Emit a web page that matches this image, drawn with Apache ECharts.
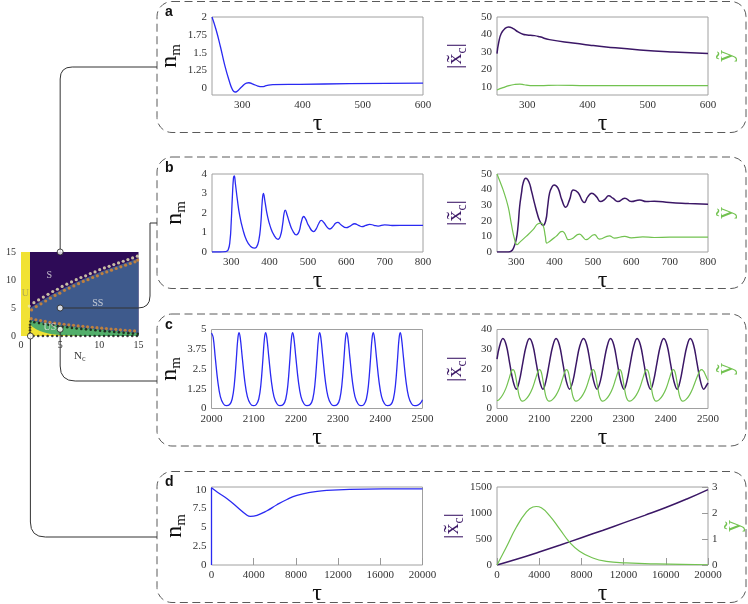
<!DOCTYPE html>
<html><head><meta charset="utf-8">
<script src="https://cdn.jsdelivr.net/npm/echarts@6/dist/echarts.min.js"></script>
<style>html,body{margin:0;padding:0;background:#fff}#c{width:748px;height:604px}</style>
</head><body><div id="c"></div>
<script>
// ---------------- DATA ----------------
// Phase diagram (N_c vs v_u)
const boundaryUpper = [[1.15,5.0],[1.8,5.6],[2.4,6.1],[3.0,6.6],[3.6,7.1],[4.2,7.6],[4.8,8.0],[5.4,8.5],[6.0,8.9],[6.6,9.3],[7.2,9.7],[7.8,10.1],[8.4,10.4],[9.0,10.8],[9.6,11.1],[10.2,11.5],[10.8,11.8],[11.4,12.1],[12.0,12.4],[12.6,12.7],[13.2,13.0],[13.8,13.3],[14.4,13.6],[15.0,13.9]];
const boundaryLower = [[1.15,2.8],[1.8,2.6],[2.4,2.45],[3.0,2.3],[3.6,2.15],[4.2,2.0],[4.8,1.9],[5.4,1.8],[6.0,1.7],[6.6,1.6],[7.2,1.5],[7.8,1.42],[8.4,1.34],[9.0,1.26],[9.6,1.18],[10.2,1.1],[10.8,1.02],[11.4,0.95],[12.0,0.88],[12.6,0.8],[13.2,0.73],[13.8,0.66],[14.4,0.6],[15.0,0.54]];
const boundaryYellow = [[1.15,2.1],[1.5,1.6],[2.0,1.15],[2.5,0.85],[3.0,0.62],[3.5,0.45],[4.0,0.33],[5.0,0.18],[6.0,0.08],[7.0,0.03],[8.0,0]];
const uStrip = [[0,15],[1.15,15]];
const lightDots = [[1.05,5.35],[1.65,5.95],[2.25,6.45],[2.85,6.95],[3.45,7.45],[4.05,7.95],[4.65,8.35],[5.25,8.85],[5.85,9.25],[6.45,9.65],[7.05,10.05],[7.65,10.45],[8.25,10.75],[8.85,11.15],[9.45,11.45],[10.05,11.85],[10.65,12.15],[11.25,12.45],[11.85,12.75],[12.45,13.05],[13.05,13.35],[13.65,13.65],[14.25,13.95],[14.85,14.25]];
const orangeUpperDots = [[1.35,4.65],[1.95,5.25],[2.55,5.75],[3.15,6.25],[3.75,6.75],[4.35,7.25],[4.95,7.65],[5.55,8.15],[6.15,8.55],[6.75,8.95],[7.35,9.35],[7.95,9.75],[8.55,10.05],[9.15,10.45],[9.75,10.75],[10.35,11.15],[10.95,11.45],[11.55,11.75],[12.15,12.05],[12.75,12.35],[13.35,12.65],[13.95,12.95],[14.55,13.25],[14.9,13.55]];
const orangeLowerDots = [[1.3,3.1],[1.9,2.9],[2.5,2.75],[3.1,2.6],[3.7,2.45],[4.3,2.3],[4.9,2.2],[5.5,2.1],[6.1,2.0],[6.7,1.9],[7.3,1.8],[7.9,1.72],[8.5,1.64],[9.1,1.56],[9.7,1.48],[10.3,1.4],[10.9,1.32],[11.5,1.25],[12.1,1.18],[12.7,1.1],[13.3,1.03],[13.9,0.96],[14.5,0.9]];
const blackLowerDots = [[1.2,2.6],[1.7,2.45],[2.3,2.3],[2.9,2.15],[3.5,2.0],[4.1,1.85],[4.7,1.75],[5.3,1.65],[5.9,1.55],[6.5,1.45],[7.1,1.35],[7.7,1.27],[8.3,1.19],[8.9,1.11],[9.5,1.03],[10.1,0.95],[10.7,0.87],[11.3,0.8],[11.9,0.73],[12.5,0.65],[13.1,0.58],[13.7,0.51],[14.3,0.45],[14.9,0.39],[1.15,2.0],[1.15,1.5],[1.15,1.0],[1.15,0.5]];
const blackBottomDots = [[1.6,0],[2.2,0],[2.8,0],[3.4,0],[4.0,0],[4.6,0],[5.2,0],[5.8,0],[6.4,0],[7.0,0],[7.6,0],[8.2,0],[8.8,0],[9.4,0],[10.0,0],[10.6,0],[11.2,0],[11.8,0],[12.4,0],[13.0,0],[13.6,0],[14.2,0],[14.8,0]];
const regionLabels = [{name:'S',value:[3.6,10.9]},{name:'SS',value:[9.8,5.9]},{name:'U',value:[0.55,7.6]},{name:'US',value:[3.7,1.5]}];
const connectorPoints = [[5,15],[5,5],[5,1.2],[1.2,0]];

// Panel a
const aXTicks = [300,400,500,600];
const aNmTicks = [1,1.25,1.5,1.75,2];
const aNmTickLabels = ['0','1.25','1.5','1.75','2'];
const aXcTicks = [10,20,30,40,50];
const aNm = [[250,2.0],[257,1.815],[264,1.583],[271,1.329],[278,1.12],[284,0.98],[288,0.949],[291,0.955],[299,1.019],[307,1.074],[311,1.079],[318,1.06],[326,1.032],[333,1.023],[340,1.037],[351,1.051],[395,1.056],[478,1.065],[600,1.074]];
const aXc = [[250,29.0],[253,35.7],[257,40.5],[263,43.3],[269,44.3],[277,43.3],[285,41.4],[293,40.1],[300,39.7],[312,39.3],[321,38.6],[337,37.0],[376,35.0],[404,33.8],[431,32.8],[487,31.1],[542,29.9],[600,29.0]];
const aY = [[250,8.1],[260,9.4],[270,10.6],[280,11.3],[288,11.5],[295,11.1],[305,10.6],[320,10.6],[350,10.8],[400,10.6],[600,10.6]];

// Panel b
const bXTicks = [300,400,500,600,700,800];
const bNm = [[250,0],[270,0],[285,0.02],[292,0.1],[297,0.6],[300,1.5],[303,2.8],[306,3.8],[308,3.9],[311,3.5],[316,2.7],[322,1.9],[330,1.2],[340,0.6],[350,0.3],[360,0.2],[366,0.25],[372,0.6],[377,1.4],[381,2.6],[384,3.0],[388,2.6],[394,1.9],[402,1.3],[412,0.85],[422,0.65],[428,0.8],[434,1.4],[438,2.0],[441,2.15],[445,1.95],[452,1.5],[460,1.1],[470,0.88],[477,1.05],[483,1.55],[489,1.82],[494,1.7],[502,1.35],[515,1.05],[522,1.2],[528,1.45],[535,1.62],[542,1.5],[549,1.3],[557,1.18],[565,1.3],[572,1.47],[578,1.52],[586,1.4],[600,1.25],[610,1.33],[622,1.45],[632,1.37],[641,1.3],[651,1.36],[661,1.42],[672,1.37],[683,1.33],[700,1.39],[720,1.36],[760,1.37],[800,1.37]];
const bXc = [[250,0],[280,0],[287,0.5],[293,2.5],[300,7.9],[305,17],[309,29],[314,38],[318,44],[325,47.2],[333,45],[340,39],[348,31],[355,24.5],[361,20.2],[370,17],[377,20],[382,29],[387,37.7],[393,41.5],[399,43],[409,40.9],[419,33.4],[429,28.7],[439,33.4],[449,39.8],[461,38.1],[472,33],[477,31.7],[487,35.5],[497,37.7],[509,35.5],[520,32.3],[531,33.8],[541,36],[552,34.5],[565,32.3],[583,34.5],[600,32.3],[622,33.4],[639,32.3],[660,32.6],[700,31.7],[750,31.1],[800,30.6]];
const bY = [[250,50],[258,45],[266,39.8],[279,29.1],[287,18.5],[296,7.9],[302,4.7],[309,6.2],[326,10],[344,14.3],[357,18.1],[365,18.5],[371,16.4],[376,10],[380,5.7],[387,6.8],[404,10],[420,13.2],[426,12.1],[431,9.5],[435,7.9],[444,8.3],[465,11.5],[474,9.6],[482,7.9],[504,11.1],[517,8.3],[543,10.4],[556,8.9],[583,10],[600,9.1],[630,9.7],[660,9.3],[700,9.5],[800,9.5]];

// Panel c
const cNm = [[2000,4.78],[2004,4.5],[2009,3.2],[2015,1.7],[2021,0.75],[2028,0.3],[2035,0.18],
 [2043,0.25],[2049,0.6],[2054,1.5],[2059,3.2],[2062,4.3],[2065,4.8],[2068,4.5],[2073,3.2],[2079,1.7],[2085,0.75],[2092,0.3],[2099,0.18],
 [2106,0.25],[2112,0.6],[2117,1.5],[2122,3.2],[2125,4.3],[2128,4.8],[2131,4.5],[2136,3.2],[2142,1.7],[2148,0.75],[2155,0.3],[2162,0.18],
 [2170,0.25],[2176,0.6],[2181,1.5],[2186,3.2],[2189,4.3],[2192,4.8],[2195,4.5],[2200,3.2],[2206,1.7],[2212,0.75],[2219,0.3],[2226,0.18],
 [2234,0.25],[2240,0.6],[2245,1.5],[2250,3.2],[2253,4.3],[2256,4.8],[2259,4.5],[2264,3.2],[2270,1.7],[2276,0.75],[2283,0.3],[2290,0.18],
 [2298,0.25],[2304,0.6],[2309,1.5],[2314,3.2],[2317,4.3],[2320,4.8],[2323,4.5],[2328,3.2],[2334,1.7],[2340,0.75],[2347,0.3],[2354,0.18],
 [2361,0.25],[2367,0.6],[2372,1.5],[2377,3.2],[2380,4.3],[2383,4.8],[2386,4.5],[2391,3.2],[2397,1.7],[2403,0.75],[2410,0.3],[2417,0.18],
 [2425,0.25],[2431,0.6],[2436,1.5],[2441,3.2],[2444,4.3],[2447,4.8],[2450,4.5],[2455,3.2],[2461,1.7],[2467,0.75],[2474,0.3],[2481,0.18],
 [2489,0.22],[2495,0.33],[2500,0.55]];
const cXc = [[2000,25],[2006,31.5],[2014,35.4],[2022,32],[2030,23],[2038,14],[2046,9.8],[2053,14],[2061,23],[2069,31.5],
 [2077,35.4],[2085,32],[2093,23],[2101,14],[2109,9.8],[2116,14],[2124,23],[2132,31.5],
 [2140,35.4],[2148,32],[2156,23],[2164,14],[2172,9.8],[2180,14],[2188,23],[2196,31.5],
 [2205,35.4],[2213,32],[2221,23],[2229,14],[2237,9.8],[2245,14],[2253,23],[2261,31.5],
 [2269,35.4],[2277,32],[2285,23],[2293,14],[2301,9.8],[2308,14],[2316,23],[2324,31.5],
 [2332,35.4],[2340,32],[2348,23],[2356,14],[2364,9.8],[2371,14],[2379,23],[2387,31.5],
 [2395,35.4],[2403,32],[2411,23],[2419,14],[2427,9.8],[2434,14],[2442,23],[2450,31.5],
 [2458,35.4],[2466,32],[2474,23],[2482,14],[2490,9.8],[2496,11.5],[2500,13]];
const cY = [[2000,3.9],[2005,4.5],[2013,6.7],[2021,10.2],[2028,14.7],[2032,17.5],[2035,19.2],[2038,19.7],[2041,19.0],[2044,16.5],[2048,11.5],[2052,6.8],[2056,4.4],[2059,3.8],
 [2061,3.7],[2068,4.6],[2076,6.8],[2084,10.3],[2091,14.8],[2095,17.5],[2098,19.2],[2101,19.7],[2104,19.0],[2107,16.5],[2111,11.5],[2115,6.8],[2119,4.4],[2122,3.8],
 [2125,3.7],[2132,4.6],[2140,6.8],[2148,10.3],[2155,14.8],[2159,17.5],[2162,19.2],[2165,19.7],[2168,19.0],[2171,16.5],[2175,11.5],[2179,6.8],[2183,4.4],[2186,3.8],
 [2188,3.7],[2195,4.6],[2203,6.8],[2211,10.3],[2218,14.8],[2222,17.5],[2225,19.2],[2228,19.7],[2231,19.0],[2234,16.5],[2238,11.5],[2242,6.8],[2246,4.4],[2249,3.8],
 [2251,3.7],[2258,4.6],[2266,6.8],[2274,10.3],[2281,14.8],[2285,17.5],[2288,19.2],[2291,19.7],[2294,19.0],[2297,16.5],[2301,11.5],[2305,6.8],[2309,4.4],[2312,3.8],
 [2315,3.7],[2322,4.6],[2330,6.8],[2338,10.3],[2345,14.8],[2349,17.5],[2352,19.2],[2355,19.7],[2358,19.0],[2361,16.5],[2365,11.5],[2369,6.8],[2373,4.4],[2376,3.8],
 [2378,3.7],[2385,4.6],[2393,6.8],[2401,10.3],[2408,14.8],[2412,17.5],[2415,19.2],[2418,19.7],[2421,19.0],[2424,16.5],[2428,11.5],[2432,6.8],[2436,4.4],[2439,3.8],
 [2441,3.7],[2448,4.6],[2456,6.8],[2464,10.3],[2472,14.8],[2477,17.5],[2481,19.2],[2485,19.7],[2489,19.0],[2493,17.5],[2497,15.5],[2500,14.3]];

// Panel d
const dNmTicks = [0,2.5,5,7.5,10];
const dNmRise = [[0,0],[0,10.25]];
const dNm = [[0,10.25],[535,9.7],[1480,8.8],[2425,7.7],[3370,6.6],[3685,6.45],[4315,6.6],[5260,7.2],[6200,8.0],[7150,8.7],[8100,9.25],[9350,9.65],[10930,9.9],[13130,10.05],[16280,10.1],[20000,10.1]];
const dXc = [[0,0],[2000,120],[4000,250],[6000,385],[8000,525],[10000,665],[12000,810],[14000,955],[16000,1105],[18000,1270],[20000,1450]];
const dY = [[0,0],[880,0.68],[1830,1.45],[2775,2.03],[3400,2.23],[3720,2.25],[4200,2.2],[4980,1.9],[5930,1.39],[6880,0.875],[7820,0.53],[9080,0.27],[10350,0.14],[12240,0.08],[15080,0.04],[20000,0.01]];

// ---------------- STYLE ----------------
const SERIF = 'Liberation Serif';
const C_BLUE = '#2a2af2', C_PURPLE = '#3b1766', C_GREEN = '#72c250';
const C_S = '#2e0b57', C_SS = '#3e5a8c', C_US = '#52ae6a', C_U = '#f1e234';
const plain = v => String(v);
const tickLbl = {fontFamily: SERIF, fontSize: 11, color: '#333', margin: 5, formatter: plain};
const border = '#a0a0a0';

const chart = echarts.init(document.getElementById('c'));

function grid(l, t, w, h, extra) {
  return Object.assign({left: l, top: t, width: w, height: h, show: true, borderColor: border, borderWidth: 1,
    backgroundColor: 'transparent', containLabel: false, outerBoundsMode: 'none'}, extra || {});
}
const grids = [
  grid(21, 252, 117.5, 84, {borderWidth: 0, backgroundColor: C_S}),
  grid(212, 17, 211, 78), grid(497, 17, 211, 78),
  grid(212, 174, 211, 78), grid(497, 174, 211, 78),
  grid(211.5, 329.5, 211, 79), grid(497, 329.5, 211, 79),
  grid(211.5, 487, 211, 78), grid(497, 487, 211, 78)
];

const tauName = (gap) => ({name: 'τ', nameLocation: 'middle', nameGap: gap,
  nameTextStyle: {fontFamily: SERIF, fontSize: 24, color: '#111'}});
function xAx(gi, min, max, ticks, gap, extra) {
  return Object.assign({type: 'value', gridIndex: gi, min: min, max: max,
    axisLine: {show: false}, axisTick: {show: false}, splitLine: {show: false},
    axisLabel: Object.assign({customValues: ticks, showMinLabel: true, showMaxLabel: true}, tickLbl)}, tauName(gap), extra || {});
}
const nmName = {name: '{n|n}{s|m}', nameLocation: 'middle', nameRotate: 90, nameGap: 23,
  nameTextStyle: {rich: {n: {fontFamily: SERIF, fontSize: 24, lineHeight: 28, color: '#111'},
    s: {fontFamily: SERIF, fontSize: 15, lineHeight: 15, verticalAlign: 'bottom', color: '#111'}}}};
const xcName = {name: '{p||x̃}{s|c}{p||}', nameLocation: 'middle', nameRotate: 90, nameGap: 28,
  nameTextStyle: {rich: {p: {fontFamily: SERIF, fontSize: 22, lineHeight: 28, color: C_PURPLE},
    s: {fontFamily: SERIF, fontSize: 14, lineHeight: 14, verticalAlign: 'bottom', color: C_PURPLE}}}};
const yName = {name: 'ỹ', nameLocation: 'middle', nameRotate: 90, nameGap: 6,
  nameTextStyle: {fontFamily: SERIF, fontSize: 24, color: C_GREEN}};
function yAx(gi, min, max, ticks, fmt, nm, extra) {
  return Object.assign({type: 'value', gridIndex: gi, min: min, max: max,
    axisLine: {show: false}, axisTick: {show: false}, splitLine: {show: false},
    axisLabel: Object.assign({}, tickLbl, {customValues: ticks, showMinLabel: true, showMaxLabel: true, formatter: fmt || plain})}, nm || {}, extra || {});
}
function yRightName(gi, nameGap) {
  return Object.assign({type: 'value', gridIndex: gi, position: 'right', min: 0, max: 1,
    axisLine: {show: false}, axisTick: {show: false}, axisLabel: {show: false}, splitLine: {show: false}}, yName, {nameGap: nameGap});
}

const dTick = {show: true, inside: true, length: 7, lineStyle: {color: '#999'}};
const xAxes = [
  {type: 'value', gridIndex: 0, min: 0, max: 15, interval: 5, axisLine: {show: false}, axisTick: {show: false}, splitLine: {show: false},
   axisLabel: {fontFamily: SERIF, fontSize: 10, color: '#333', margin: 4},
   name: '{n|N}{s|c}', nameLocation: 'middle', nameGap: 2,
   nameTextStyle: {rich: {n: {fontFamily: SERIF, fontSize: 11, lineHeight: 13, color: '#333'}, s: {fontFamily: SERIF, fontSize: 8, lineHeight: 8, verticalAlign: 'bottom', color: '#333'}}}},
  xAx(1, 250, 600, aXTicks, 7), xAx(2, 250, 600, aXTicks, 7),
  xAx(3, 250, 800, bXTicks, 7), xAx(4, 250, 800, bXTicks, 7),
  xAx(5, 2000, 2500, null, 9, {interval: 100}),
  xAx(6, 2000, 2500, null, 9, {interval: 100}),
  xAx(7, 0, 20000, null, 9, {interval: 4000, axisTick: dTick}),
  xAx(8, 0, 20000, null, 9, {interval: 4000, axisTick: dTick})
];
const yAxes = [
  {type: 'value', gridIndex: 0, min: 0, max: 15, interval: 5, axisLine: {show: false}, axisTick: {show: false}, splitLine: {show: false},
   axisLabel: {fontFamily: SERIF, fontSize: 10, color: '#333', margin: 5},
   name: '{n|ṽ}{s|u}', nameLocation: 'middle', nameRotate: 90, nameGap: 10,
   nameTextStyle: {rich: {n: {fontFamily: SERIF, fontSize: 11, lineHeight: 13, color: '#333'}, s: {fontFamily: SERIF, fontSize: 8, lineHeight: 8, verticalAlign: 'bottom', color: '#333'}}}},
  yAx(1, 0.907, 2, aNmTicks, v => aNmTickLabels[aNmTicks.indexOf(v)] ?? String(v), nmName),
  yAx(2, 5.2, 50, aXcTicks, null, xcName),
  yRightName(2, 6),
  yAx(3, 0, 4, null, null, nmName, {interval: 1}),
  yAx(4, 0, 50, null, null, xcName, {interval: 10}),
  yRightName(4, 6),
  yAx(5, 0, 5, null, null, nmName, {interval: 1.25}),
  yAx(6, 0, 40, null, null, xcName, {interval: 10}),
  yRightName(6, 6),
  yAx(7, 0, 10.36, dNmTicks, null, nmName),
  yAx(8, 0, 1500, null, null, xcName, {interval: 500}),
  yAx(8, 0, 3, null, null, yName, {interval: 1, position: 'right', nameGap: 9,
    axisTick: {show: true, inside: true, length: 6, lineStyle: {color: '#999'}}})
];
yAxes[12].axisLabel.margin = 4;

function line(xi, yi, data, color, w, sm) {
  return {type: 'line', xAxisIndex: xi, yAxisIndex: yi, data: data, symbol: 'none', smooth: sm === undefined ? 0.5 : sm,
    lineStyle: {color: color, width: w || 1.3}, silent: true, animation: false};
}
function area(data, color) {
  return {type: 'line', xAxisIndex: 0, yAxisIndex: 0, data: data, symbol: 'none', silent: true, animation: false,
    lineStyle: {width: 0, opacity: 0}, areaStyle: {color: color, opacity: 1, origin: 'start'}};
}
function dots(data, color, size, z) {
  return {type: 'scatter', xAxisIndex: 0, yAxisIndex: 0, data: data, symbolSize: size, silent: true, animation: false,
    itemStyle: {color: color}, z: z || 5};
}

const series = [
  area(boundaryUpper, C_SS), area(boundaryLower, C_US), area(boundaryYellow, C_U), area(uStrip, C_U),
  dots(lightDots, '#eeeab8', 3.2), dots(orangeUpperDots, '#e08a2c', 3.2),
  dots(orangeLowerDots, '#e08a2c', 3.2), dots(blackLowerDots, '#111', 2.6), dots(blackBottomDots, '#111', 2.6),
  {type: 'scatter', xAxisIndex: 0, yAxisIndex: 0, symbolSize: 0, silent: true, animation: false, z: 6,
   data: regionLabels.map(r => ({name: r.name, value: r.value, label: {color: r.name === 'U' ? '#a89f55' : '#e6e6e6'}})),
   label: {show: true, position: 'inside', formatter: p => p.name, fontFamily: SERIF, fontSize: 10}},
  {type: 'scatter', xAxisIndex: 0, yAxisIndex: 0, data: connectorPoints, symbolSize: 6, clip: false, silent: true, animation: false, z: 20,
   itemStyle: {color: '#fff', borderColor: '#222', borderWidth: 1}},
  line(1, 1, aNm, C_BLUE),
  line(2, 2, aXc, C_PURPLE, 1.5), line(2, 2, aY, C_GREEN, 1.2),
  line(3, 4, bNm, C_BLUE),
  line(4, 5, bXc, C_PURPLE, 1.5), line(4, 5, bY, C_GREEN, 1.2),
  line(5, 7, cNm, C_BLUE, 1.3, 0.4),
  line(6, 8, cXc, C_PURPLE, 1.5, 0.4), line(6, 8, cY, C_GREEN, 1.2, 0.4),
  line(7, 10, dNmRise, C_BLUE, 1.3, false), line(7, 10, dNm, C_BLUE),
  line(8, 11, dXc, C_PURPLE, 1.5), line(8, 12, dY, C_GREEN, 1.2)
];

chart.setOption({animation: false, grid: grids, xAxis: xAxes, yAxis: yAxes, series: series});

// ---------- decorations: dashed panels, letters, connectors ----------
const px = connectorPoints.map(p => chart.convertToPixel({xAxisIndex: 0, yAxisIndex: 0}, p));
const BX = 157, BW = 589;
const boxes = [[1.5, 131], [157, 131.5], [314, 132], [471.5, 131]];
const letters = [['a', 11.8], ['b', 168.4], ['c', 325.1], ['d', 482.4]];
const graphic = [];
boxes.forEach(b => graphic.push({type: 'rect', silent: true, z: 1,
  shape: {x: BX, y: b[0], width: BW, height: b[1], r: 15},
  style: {fill: 'none', stroke: '#5a5a5a', lineWidth: 1, lineDash: [8, 4.5]}}));
letters.forEach(l => graphic.push({type: 'text', silent: true, z: 1, x: 165, y: l[1],
  style: {text: l[0], fontFamily: 'Liberation Sans', fontWeight: 'bold', fontSize: 14, fill: '#111', verticalAlign: 'middle'}}));
const lnStyle = {fill: 'none', stroke: '#333', lineWidth: 1};
function seg(x1, y1, x2, y2) {
  graphic.push({type: 'line', silent: true, z: 10, shape: {x1, y1, x2, y2}, style: lnStyle});
}
function corner(x1, y1, cx, cy, x2, y2) {
  graphic.push({type: 'bezierCurve', silent: true, z: 10, shape: {x1, y1, x2, y2, cpx1: cx, cpy1: cy}, style: lnStyle});
}
let [x0, y0] = px[0];
seg(x0, y0, x0, 67 + 12); corner(x0, 79, x0, 67, x0 + 12, 67); seg(x0 + 12, 67, BX, 67);
[x0, y0] = px[1];
seg(x0, y0, 138, y0); corner(138, y0, 150, y0, 150, y0 - 12); seg(150, y0 - 12, 150, 223); seg(150, 223, BX, 223);
[x0, y0] = px[2];
seg(x0, y0, x0, 366); corner(x0, 366, x0, 381, x0 + 15, 381); seg(x0 + 15, 381, BX, 381);
[x0, y0] = px[3];
seg(x0, y0, x0, 522); corner(x0, 522, x0, 537, x0 + 15, 537); seg(x0 + 15, 537, BX, 537);
chart.setOption({graphic: graphic});
</script></body></html>
